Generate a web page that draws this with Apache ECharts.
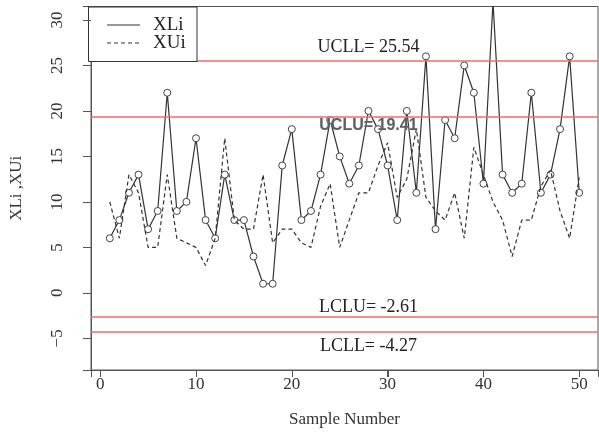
<!DOCTYPE html>
<html>
<head>
<meta charset="utf-8">
<script src="https://cdn.jsdelivr.net/npm/echarts@6/dist/echarts.min.js"></script>
<style>
html,body{margin:0;padding:0;background:#fff;}
#chart{width:599px;height:433px;}
</style>
</head>
<body>
<div id="chart"></div>
<script>
// ---- data ----
const XLi = [6, 8, 11, 13, 7, 9, 22, 9, 10, 17, 8, 6, 13, 8, 8, 4, 1, 1, 14, 18,
             8, 9, 13, 19, 15, 12, 14, 20, 18, 14, 8, 20, 11, 26, 7, 19, 17, 25, 22, 12,
             32, 13, 11, 12, 22, 11, 13, 18, 26, 11];
const XUi = [10, 6, 13, 11, 5, 5, 13, 6, 5.5, 5, 3, 6, 17, 8, 7, 7, 13, 5.5, 7, 7,
             5.5, 5, 9.5, 12, 5, 8, 11, 11, 14, 16.5, 10.5, 12.5, 18, 10.5, 9, 8, 11, 6, 16, 13,
             10, 8, 4, 8, 8, 11.7, 13.5, 9, 6, 12.7];
const sampleNumber = XLi.map((_, i) => i + 1);
const limitNames = ['UCLL', 'UCLU', 'LCLU', 'LCLL'];
const limitValues = [25.54, 19.41, -2.61, -4.27];
const xTicks = [0, 10, 20, 30, 40, 50];
const yTicks = [-5, 0, 5, 10, 15, 20, 25, 30];

const serif = '"Liberation Serif", "DejaVu Serif", serif';
const chart = echarts.init(document.getElementById('chart'), null, {renderer: 'canvas'});

const option = {
  animation: false,
  backgroundColor: '#fff',
  grid: {left: 88, right: 1, top: 6.5, bottom: 62.5, show: true,
         borderColor: '#555', borderWidth: 1, backgroundColor: 'transparent'},
  xAxis: {
    type: 'value', min: -0.96, max: 51.96,
    name: 'Sample Number', nameLocation: 'middle', nameGap: 41,
    nameTextStyle: {fontFamily: serif, fontSize: 17, color: '#333'},
    axisLine: {show: true, onZero: false, lineStyle: {color: '#555', width: 1}},
    axisTick: {show: true, inside: false, length: 7, lineStyle: {color: '#555', width: 1}},
    axisLabel: {customValues: xTicks, fontFamily: serif, fontSize: 17, color: '#333', margin: 6},
    splitLine: {show: false}
  },
  yAxis: {
    type: 'value', min: -8.48, max: 31.48,
    name: 'XLi ,XUi', nameLocation: 'middle', nameGap: 66,
    nameTextStyle: {fontFamily: serif, fontSize: 17, color: '#333'},
    axisLine: {show: true, onZero: false, lineStyle: {color: '#555', width: 1}},
    axisTick: {show: true, inside: false, length: 8, lineStyle: {color: '#555', width: 1}},
    axisLabel: {customValues: yTicks, rotate: 90, fontFamily: serif, fontSize: 17, color: '#333', margin: 25,
                formatter: v => v < 0 ? '\u2212' + (-v) : String(v)},
    splitLine: {show: false}
  },
  series: [
    {
      name: 'XLi', type: 'line', z: 2,
      data: sampleNumber.map((x, i) => [x, XLi[i]]),
      symbol: 'circle', symbolSize: 7, showAllSymbol: true,
      itemStyle: {color: '#fff', borderColor: '#444', borderWidth: 1},
      lineStyle: {color: '#333', width: 1.2, type: 'solid'},
      clip: true,
      markLine: {
        silent: true, symbol: 'none',
        lineStyle: {color: '#f26b6b', width: 1.5, type: 'solid'},
        label: {show: false},
        data: limitValues.map(v => ({yAxis: v}))
      }
    },
    {
      name: 'XUi', type: 'line', z: 3,
      data: sampleNumber.map((x, i) => [x, XUi[i]]),
      symbol: 'none',
      lineStyle: {color: '#333', width: 1.2, type: [4, 3]},
      clip: true
    }
  ]
};
chart.setOption(option);

// annotation texts, tick marks and legend (drawn as graphics)
const annX = 28;
const annY = [27.0, 18.4, -1.6, -5.9];
const g = [];
limitNames.forEach((n, i) => {
  const p = chart.convertToPixel({gridIndex: 0}, [annX, annY[i]]);
  const isU = n === 'UCLU';
  g.push({
    type: 'text', x: p[0], y: p[1], z: 10,
    style: {
      text: n + '= ' + limitValues[i].toFixed(2),
      fontFamily: isU ? '"Liberation Sans", Arial, sans-serif' : serif,
      fontSize: isU ? 16 : 18,
      fontWeight: isU ? 'bold' : 'normal',
      fill: isU ? '#57606e' : '#222',
      stroke: isU ? 'rgba(235,150,60,0.35)' : null,
      lineWidth: isU ? 0.6 : 0,
      align: 'center', verticalAlign: 'middle'
    }
  });
});
// tick marks (R style, outside the box)
xTicks.forEach(v => {
  const p = chart.convertToPixel({gridIndex: 0}, [v, -8.48]);
  const x = Math.round(p[0]) + 0.5;
  g.push({type: 'line', shape: {x1: x, y1: p[1], x2: x, y2: p[1] + 7}, z: 10,
          style: {stroke: '#555', lineWidth: 1}});
});
yTicks.forEach(v => {
  const p = chart.convertToPixel({gridIndex: 0}, [-0.96, v]);
  const y = Math.round(p[1]) + 0.5;
  g.push({type: 'line', shape: {x1: p[0] - 8, y1: y, x2: p[0], y2: y}, z: 10,
          style: {stroke: '#555', lineWidth: 1}});
});
// legend box
g.push({type: 'rect', shape: {x: 88.5, y: 7, width: 108.5, height: 54.5}, z: 9,
        style: {fill: '#fff', stroke: '#333', lineWidth: 1}});
g.push({type: 'line', shape: {x1: 107, y1: 25, x2: 140, y2: 25}, z: 10,
        style: {stroke: '#333', lineWidth: 1.2}});
g.push({type: 'line', shape: {x1: 107, y1: 43, x2: 140, y2: 43}, z: 10,
        style: {stroke: '#333', lineWidth: 1.2, lineDash: [4, 3]}});
['XLi', 'XUi'].forEach((t, i) => {
  g.push({type: 'text', x: 153, y: 25 + i * 18, z: 10,
          style: {text: t, fontFamily: serif, fontSize: 19, fill: '#222', verticalAlign: 'middle'}});
});
chart.setOption({graphic: g});
</script>
</body>
</html>
